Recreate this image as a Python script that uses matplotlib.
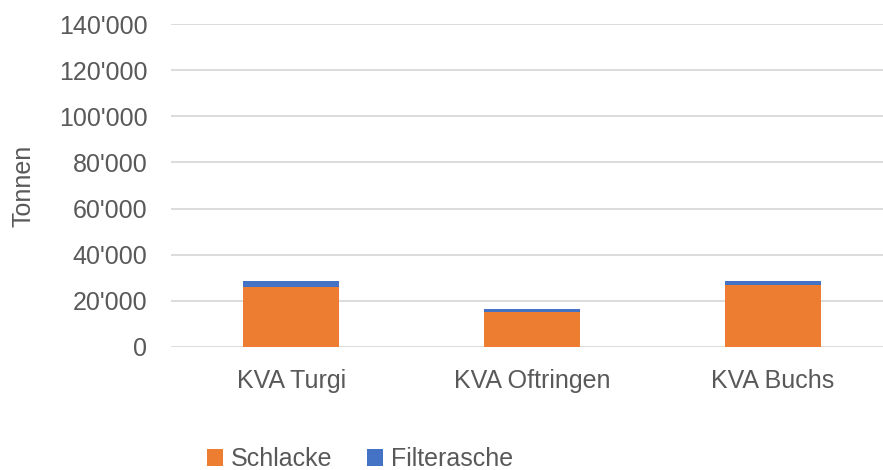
import numpy as np
import matplotlib
matplotlib.use("Agg")
import matplotlib.pyplot as plt
from matplotlib.ticker import FuncFormatter

# Daten (Tonnen)
anlagen = ['KVA Turgi', 'KVA Oftringen', 'KVA Buchs']
schlacke = [26200, 15000, 26800]
filterasche = [2500, 1600, 2000]

plt.rcParams['font.family'] = ['Liberation Sans', 'DejaVu Sans']
text_col = '#595959'
fs = 18

fig = plt.figure(figsize=(8.83, 4.70), dpi=100)
ax = fig.add_axes([171 / 883, 1 - 347 / 470, 722 / 883, 323 / 470])

x = np.arange(len(anlagen))
ax.bar(x, schlacke, width=0.4, color='#ED7D31', label='Schlacke', zorder=3)
ax.bar(x, filterasche, width=0.4, bottom=schlacke, color='#4472C4',
       label='Filterasche', zorder=3)

ax.set_xlim(-0.5, 2.5)
ax.set_ylim(0, 140000)
ax.set_yticks(np.arange(0, 140001, 20000))
ax.yaxis.set_major_formatter(FuncFormatter(lambda v, p: f"{int(v):,}".replace(',', "'")))
ax.set_xticks(x)
ax.set_xticklabels(anlagen)

ax.grid(axis='y', color='#D9D9D9', linewidth=1.3, zorder=0)
for s in ax.spines.values():
    s.set_visible(False)
ax.tick_params(axis='both', length=0, labelsize=fs, colors=text_col)
ax.tick_params(axis='y', pad=17)
ax.tick_params(axis='x', pad=16)

ax.set_ylabel('Tonnen', fontsize=fs, color=text_col, labelpad=17)

leg = fig.legend(loc='center', bbox_to_anchor=(360 / 883, 1 - 459 / 470), ncol=2,
                 frameon=False, fontsize=fs, handlelength=0.65, handleheight=0.65,
                 handletextpad=0.3, columnspacing=1.4)
for t in leg.get_texts():
    t.set_color(text_col)

fig.savefig('out.png', dpi=100)
